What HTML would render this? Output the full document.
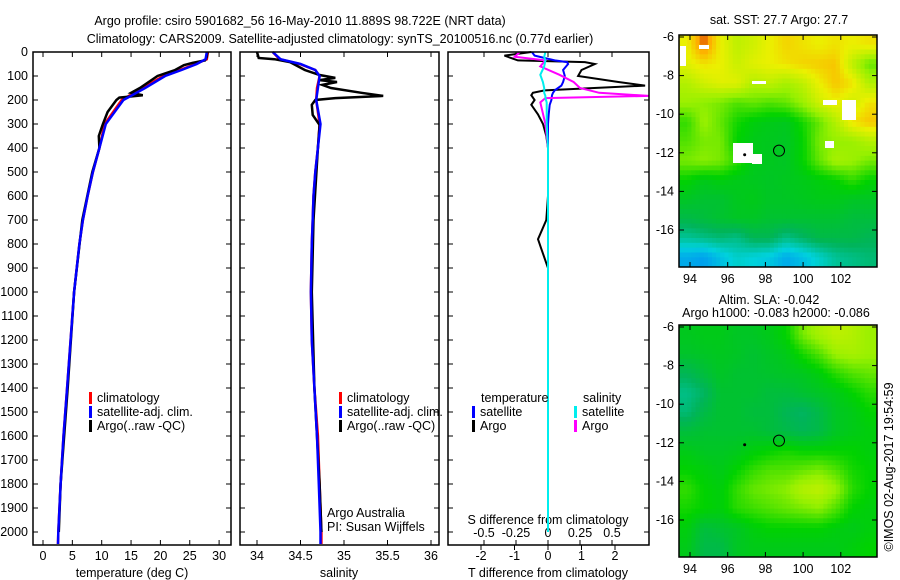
<!DOCTYPE html>
<html><head><meta charset="utf-8"><style>
body{margin:0;background:#fff;}
svg{display:block;font-family:"Liberation Sans",sans-serif;}
text{font-size:12.5px;fill:#000;}
</style></head><body>
<svg id="s" width="900" height="580" viewBox="0 0 900 580">
<text x="300" y="25" text-anchor="middle" font-size="13.5">Argo profile: csiro 5901682_56 16-May-2010 11.889S 98.722E (NRT data)</text>
<text x="340" y="43" text-anchor="middle" font-size="13.5">Climatology: CARS2009. Satellite-adjusted climatology: synTS_20100516.nc (0.77d earlier)</text>
<text x="779" y="24" text-anchor="middle">sat. SST: 27.7 Argo: 27.7</text>
<text x="769" y="304" text-anchor="middle">Altim. SLA: -0.042</text>
<text x="776" y="317" text-anchor="middle">Argo h1000: -0.083 h2000: -0.086</text>
<text transform="translate(893,467) rotate(-90)" text-anchor="middle">©IMOS 02-Aug-2017 19:54:59</text>
</svg>
<script>
// ---- data ----
const depthTicks=[0,100,200,300,400,500,600,700,800,900,1000,1100,1200,1300,1400,1500,1600,1700,1800,1900,2000];
const tempTicks=[0,5,10,15,20,25,30];
const salTicks=[34,34.5,35,35.5,36];
const tdTicks=[-2,-1,0,1,2];
const sdTicks=[-0.5,-0.25,0,0.25,0.5];
const climDepth=[0,30,50,75,100,150,200,300,400,500,600,700,800,1000,1200,1400,1600,1800,2000,2050];
const climTemp=[28.1,27.9,26,23.3,20.5,17,13.4,10.5,9.6,8.5,7.6,6.8,6.2,5.3,4.7,4.1,3.5,3.0,2.6,2.55];
const satTemp=[27.9,27.7,26.2,23.6,20.8,17.4,13.7,10.7,9.6,8.5,7.6,6.8,6.2,5.3,4.7,4.1,3.5,3.0,2.6,2.55];
const argoDepth=[0,20,35,45,55,75,100,150,170,180,190,200,250,300,350,400,500,700,1000,1400,1800,2000];
const argoTemp=[28,27.9,27.6,25.5,24,22.5,19.5,16.5,15,17,13,12.5,11,10.2,9.5,9.6,8.4,6.7,5.3,4.2,3.0,2.7];
const climSal=[34.18,34.26,34.49,34.67,34.72,34.69,34.68,34.72,34.7,34.67,34.65,34.64,34.63,34.62,34.63,34.66,34.7,34.72,34.74,34.74];
const satSal=[34.18,34.27,34.5,34.67,34.72,34.7,34.68,34.73,34.7,34.67,34.65,34.64,34.63,34.62,34.63,34.66,34.69,34.71,34.73,34.73];
const argoSDepth=[0,25,30,42,75,96,108,117,125,137,150,170,183,192,200,220,262,304,400,700,1000,1400,1800,2000];
const argoSal=[34.0,34.02,34.2,34.38,34.55,34.72,34.9,34.72,34.92,34.75,34.85,35.2,35.45,34.9,34.67,34.63,34.64,34.72,34.7,34.65,34.63,34.66,34.72,34.74];
const tdDepth=[0,15,35,42,50,75,100,125,140,160,170,180,200,220,260,300,350,400,600,700,780,820,900,1200,2000];
const argoTd=[-0.5,-1.3,-0.9,1.1,1.4,1.0,0.9,2.1,2.9,-0.1,-0.45,-0.5,-0.4,-0.5,-0.3,-0.15,-0.05,0,0,-0.05,-0.3,-0.2,0,0,0];
const satTd=[-0.48,-0.4,0.2,0.57,0.6,0.45,0.5,0.45,0.4,0.2,0.15,0.12,0.1,0.05,0.02,0,0,0,0,0,0,0,0,0,0];
const sdDepth=[0,20,35,60,95,125,150,170,183,192,210,300,400,1000,2000];
const argoSd=[-0.22,-0.26,-0.02,-0.06,0.09,0.2,0.25,0.4,0.9,-0.02,-0.06,-0.02,0,0,0];
const satSd=[-0.02,-0.03,-0.02,-0.03,-0.06,-0.04,-0.03,-0.03,-0.02,-0.02,-0.01,-0.01,0,0,0];
const lonTicks=[94,96,98,100,102];
const latTicks=[-6,-8,-10,-12,-14,-16];
const sstGrid=[
[.8,.95,.8,.72,.75,.8,.84,.82,.8,.82,.8,.82],
[.78,.82,.8,.74,.78,.8,.82,.84,.85,.86,.72,.6],
[.7,.75,.78,.78,.7,.72,.68,.72,.8,.86,.82,.7],
[.66,.64,.62,.58,.6,.58,.6,.66,.75,.8,.75,.82],
[.55,.66,.6,.52,.48,.46,.45,.52,.6,.7,.82,.86],
[.58,.62,.62,.5,.46,.45,.44,.5,.62,.65,.66,.7],
[.62,.64,.62,.55,.46,.45,.44,.5,.6,.68,.66,.62],
[.5,.46,.48,.46,.45,.44,.45,.46,.48,.5,.55,.5],
[.44,.42,.42,.45,.46,.44,.44,.45,.46,.46,.44,.44],
[.38,.4,.42,.44,.44,.42,.42,.42,.42,.42,.4,.4],
[.28,.3,.32,.3,.36,.36,.3,.34,.38,.38,.38,.36],
[.12,.1,.16,.22,.2,.18,.12,.16,.22,.28,.3,.32]];
const slaGrid=[
[.45,.46,.46,.44,.44,.46,.5,.62,.68,.72,.7,.66],
[.43,.44,.45,.44,.42,.44,.46,.52,.58,.66,.68,.66],
[.36,.4,.44,.42,.42,.43,.44,.45,.48,.54,.58,.6],
[.3,.34,.42,.42,.42,.4,.4,.42,.44,.46,.5,.54],
[.32,.38,.42,.42,.4,.4,.36,.34,.38,.44,.46,.5],
[.4,.42,.42,.42,.42,.4,.38,.36,.38,.44,.46,.48],
[.46,.44,.44,.45,.48,.5,.52,.5,.5,.5,.5,.48],
[.5,.48,.46,.5,.55,.58,.58,.6,.62,.58,.52,.5],
[.55,.5,.48,.55,.6,.62,.64,.7,.72,.66,.54,.5],
[.52,.5,.48,.54,.56,.58,.6,.62,.64,.58,.5,.48],
[.48,.4,.42,.44,.48,.5,.5,.5,.5,.48,.46,.48],
[.46,.38,.38,.44,.46,.46,.46,.46,.46,.46,.48,.5]];

// ---- helpers ----
const S=document.getElementById('s'),NS='http://www.w3.org/2000/svg';
function mk(t,a,p){const e=document.createElementNS(NS,t);for(const k in a)e.setAttribute(k,a[k]);(p||S).appendChild(e);return e;}
const yD=d=>52+d*0.24;
const xT=t=>43+t*5.87;
const xS=s=>257+(s-34)*87;
const xTd=v=>548+v*33.5;
const xSd=v=>548+v*128;
function frame(x0,x1,y0,y1,name){const r=mk('rect',{x:x0,y:y0,width:x1-x0,height:y1-y0,fill:'none',stroke:'#000','stroke-width':1.5});}
function line(xs,ys,fx,col,name,w){
  const pts=xs.map((v,i)=>Math.min(649,fx(v)).toFixed(1)+','+yD(ys[i]).toFixed(1)).join(' ');
  const p=mk('polyline',{points:pts,fill:'none',stroke:col,'stroke-width':w||2.5,'stroke-linejoin':'miter'});
  
  
}
function txt(x,y,s,anchor,name){const t=mk('text',{x:x,y:y,'text-anchor':anchor||'start'});t.textContent=s;return t;}
function tick(x1,y1,x2,y2){mk('line',{x1,y1,x2,y2,stroke:'#000','stroke-width':1});}

const panels=[[33,231],[240,439],[448,649]];
panels.forEach(p=>{
  depthTicks.forEach(d=>{tick(p[0],yD(d),p[0]+5,yD(d));tick(p[1],yD(d),p[1]-5,yD(d));});
});
depthTicks.forEach(d=>txt(28,yD(d)+4,String(d),'end','depth-tick-label'));
tempTicks.forEach(t=>{tick(xT(t),545,xT(t),540);tick(xT(t),52,xT(t),57);txt(xT(t),560,String(t),'middle','temp-tick-label');});
salTicks.forEach(t=>{tick(xS(t),545,xS(t),540);tick(xS(t),52,xS(t),57);txt(xS(t),560,String(t),'middle','salinity-tick-label');});
tdTicks.forEach(t=>{tick(xTd(t),545,xTd(t),550);txt(xTd(t),560,String(t),'middle','tdiff-tick-label');});
sdTicks.forEach(t=>{tick(xSd(t),545,xSd(t),540);tick(xSd(t),52,xSd(t),57);txt(xSd(t),537,String(t),'middle','sdiff-tick-label');});
txt(132,577,'temperature (deg C)','middle','temp-axis-title');
txt(339,577,'salinity','middle','salinity-axis-title');
txt(548,577,'T difference from climatology','middle','tdiff-axis-title');
txt(548,524,'S difference from climatology','middle','sdiff-axis-title');

line(climTemp,climDepth,xT,'#f00','temp-climatology');
line(argoTemp,argoDepth,xT,'#000','temp-argo');
line(satTemp,climDepth,xT,'#00f','temp-satellite-adj');
line(climSal,climDepth,xS,'#f00','sal-climatology');
line(argoSal,argoSDepth,xS,'#000','sal-argo');
line(satSal,climDepth,xS,'#00f','sal-satellite-adj');
line(argoTd,tdDepth,xTd,'#000','tdiff-argo',2);
line(satTd,tdDepth,xTd,'#00f','tdiff-satellite',2);
line(argoSd,sdDepth,xSd,'#f0f','sdiff-argo',2);
line(satSd,sdDepth,xSd,'#0ee','sdiff-satellite',2);

frame(33,231,52,545,'temperature-panel');
frame(240,439,52,545,'salinity-panel');
frame(448,649,52,545,'difference-panel');
function leg(x,y,col,label,name){mk('rect',{x:x,y:y-10,width:3,height:12,fill:col});txt(x+8,y,label,'start',name);}
leg(89,402,'#f00','climatology','legend-climatology');
leg(89,416,'#00f','satellite-adj. clim.','legend-satellite-adj');
leg(89,430,'#000','Argo(..raw -QC)','legend-argo');
leg(339,402,'#f00','climatology','legend-sal-climatology');
leg(339,416,'#00f','satellite-adj. clim.','legend-sal-satellite-adj');
leg(339,430,'#000','Argo(..raw -QC)','legend-sal-argo');
txt(327,517,'Argo Australia','start','credit-argo-australia');
txt(327,531,'PI: Susan Wijffels','start','credit-pi');
txt(481,402,'temperature','start','legend-temperature-header');
txt(583,402,'salinity','start','legend-salinity-header');
leg(472,416,'#00f','satellite','legend-t-satellite');
leg(472,430,'#000','Argo','legend-t-argo');
leg(574,416,'#0ee','satellite','legend-s-satellite');
leg(574,430,'#f0f','Argo','legend-s-argo');

// maps
const stops=[[0,[0,110,255]],[.2,[0,210,220]],[.35,[0,180,90]],[.5,[0,210,0]],[.65,[150,240,0]],[.8,[235,240,0]],[.9,[255,170,0]],[1,[190,0,0]]];
function cmap(v){for(let i=1;i<stops.length;i++){if(v<=stops[i][0]){const a=stops[i-1],b=stops[i],f=(v-a[0])/(b[0]-a[0]);return 'rgb('+a[1].map((c,j)=>Math.round(c+(b[1][j]-c)*f)).join(',')+')';}}return 'rgb(190,0,0)';}
function interp(grid,r,c){const R=grid.length-1,C=grid[0].length-1;r=Math.max(0,Math.min(R,r));c=Math.max(0,Math.min(C,c));const r0=Math.floor(r),c0=Math.floor(c),r1=Math.min(R,r0+1),c1=Math.min(C,c0+1),fr=r-r0,fc=c-c0;
  return grid[r0][c0]*(1-fr)*(1-fc)+grid[r0][c1]*(1-fr)*fc+grid[r1][c0]*fr*(1-fc)+grid[r1][c1]*fr*fc;}
function map(grid,y0,y1,name,white){
  const x0=679,x1=877;
  const xL=l=>690+(l-94)*18.85, yL=l=>y0+2+(-6-l)*19.3;
  const rows=grid.length,cols=grid[0].length,sub=4,cw=(x1-x0)/(cols*sub),ch=(y1-y0)/(rows*sub);
  const g=mk('g',{});
  for(let i=0;i<rows*sub;i++)for(let j=0;j<cols*sub;j++){
    const v=interp(grid,(i+0.5)/sub-0.5,(j+0.5)/sub-0.5);
    const c=mk('rect',{x:(x0+j*cw).toFixed(2),y:(y0+i*ch).toFixed(2),width:(cw+0.5).toFixed(2),height:(ch+0.5).toFixed(2),fill:cmap(v)},g);
    
    
  }
  if(white)white.forEach(w=>mk('rect',{x:w[0],y:w[1],width:w[2],height:w[3],fill:'#fff'},g));
  frame(x0,x1,y0,y1,name+'-frame');
  lonTicks.forEach(l=>{tick(xL(l),y1,xL(l),y1-5);tick(xL(l),y0,xL(l),y0+5);txt(xL(l),y1+16,String(l),'middle','map-lon-label');});
  latTicks.forEach(l=>{tick(x0,yL(l),x0+5,yL(l));tick(x1,yL(l),x1-5,yL(l));txt(674,yL(l)+4,String(l),'end','map-lat-label');});
  const c=mk('circle',{cx:xL(98.722),cy:yL(-11.889),r:5.5,fill:'none',stroke:'#000','stroke-width':1});
  
  
  mk('circle',{cx:xL(96.9),cy:yL(-12.1),r:1.5,fill:'#000'});
}
map(sstGrid,35,267,'sst-map',[[680,46,6,20],[699,45,10,4],[752,81,14,3],[733,143,20,20],[752,154,10,10],[823,100,14,5],[842,100,14,20],[825,141,9,7]]);
map(slaGrid,325,557,'sla-map');
</script>
</body></html>
